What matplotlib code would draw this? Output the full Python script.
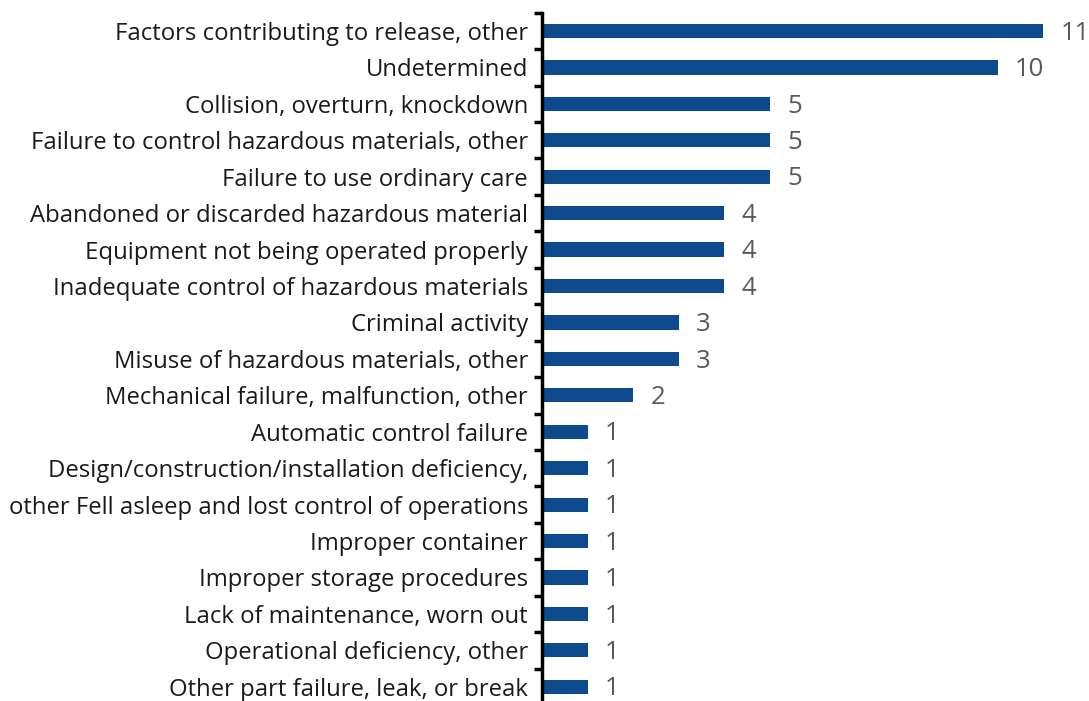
import matplotlib
matplotlib.use("Agg")
import matplotlib.pyplot as plt
import numpy as np

categories = [
    "Factors contributing to release, other",
    "Undetermined",
    "Collision, overturn, knockdown",
    "Failure to control hazardous materials, other",
    "Failure to use ordinary care",
    "Abandoned or discarded hazardous material",
    "Equipment not being operated properly",
    "Inadequate control of hazardous materials",
    "Criminal activity",
    "Misuse of hazardous materials, other",
    "Mechanical failure, malfunction, other",
    "Automatic control failure",
    "Design/construction/installation deficiency,",
    "other Fell asleep and lost control of operations",
    "Improper container",
    "Improper storage procedures",
    "Lack of maintenance, worn out",
    "Operational deficiency, other",
    "Other part failure, leak, or break",
]
counts = [11, 10, 5, 5, 5, 4, 4, 4, 3, 3, 2, 1, 1, 1, 1, 1, 1, 1, 1]

plt.rcParams['font.family'] = ['Open Sans', 'DejaVu Sans']

fig = plt.figure(figsize=(10.89, 7.01), dpi=100)
ax = fig.add_axes([0.4977, -0.0057, 0.5023, 0.9875])

y = np.arange(len(categories))
ax.barh(y, counts, height=0.39, color='#0D4A8E')

for yi, v in zip(y, counts):
    ax.text(v + 0.38, yi + 0.06, str(v), va='center', ha='left',
            fontsize=18.5, color='#595959')

ax.set_xlim(0, 12)
ax.set_ylim(len(categories) - 0.5, -0.5)

# ticks between categories, labels centred
ax.set_yticks(np.arange(len(categories) + 1) - 0.5)
ax.set_yticklabels([])
ax.tick_params(axis='y', which='major', length=6, width=2.5, direction='out')
ax.set_yticks(y, minor=True)
ax.set_yticklabels(categories, minor=True, fontsize=17.2, color='#1a1a1a')
ax.tick_params(axis='y', which='minor', length=0, pad=10)

ax.set_xticks([])
for s in ['top', 'right', 'bottom']:
    ax.spines[s].set_visible(False)
ax.spines['left'].set_linewidth(2.5)

fig.savefig("out.png", dpi=100)
